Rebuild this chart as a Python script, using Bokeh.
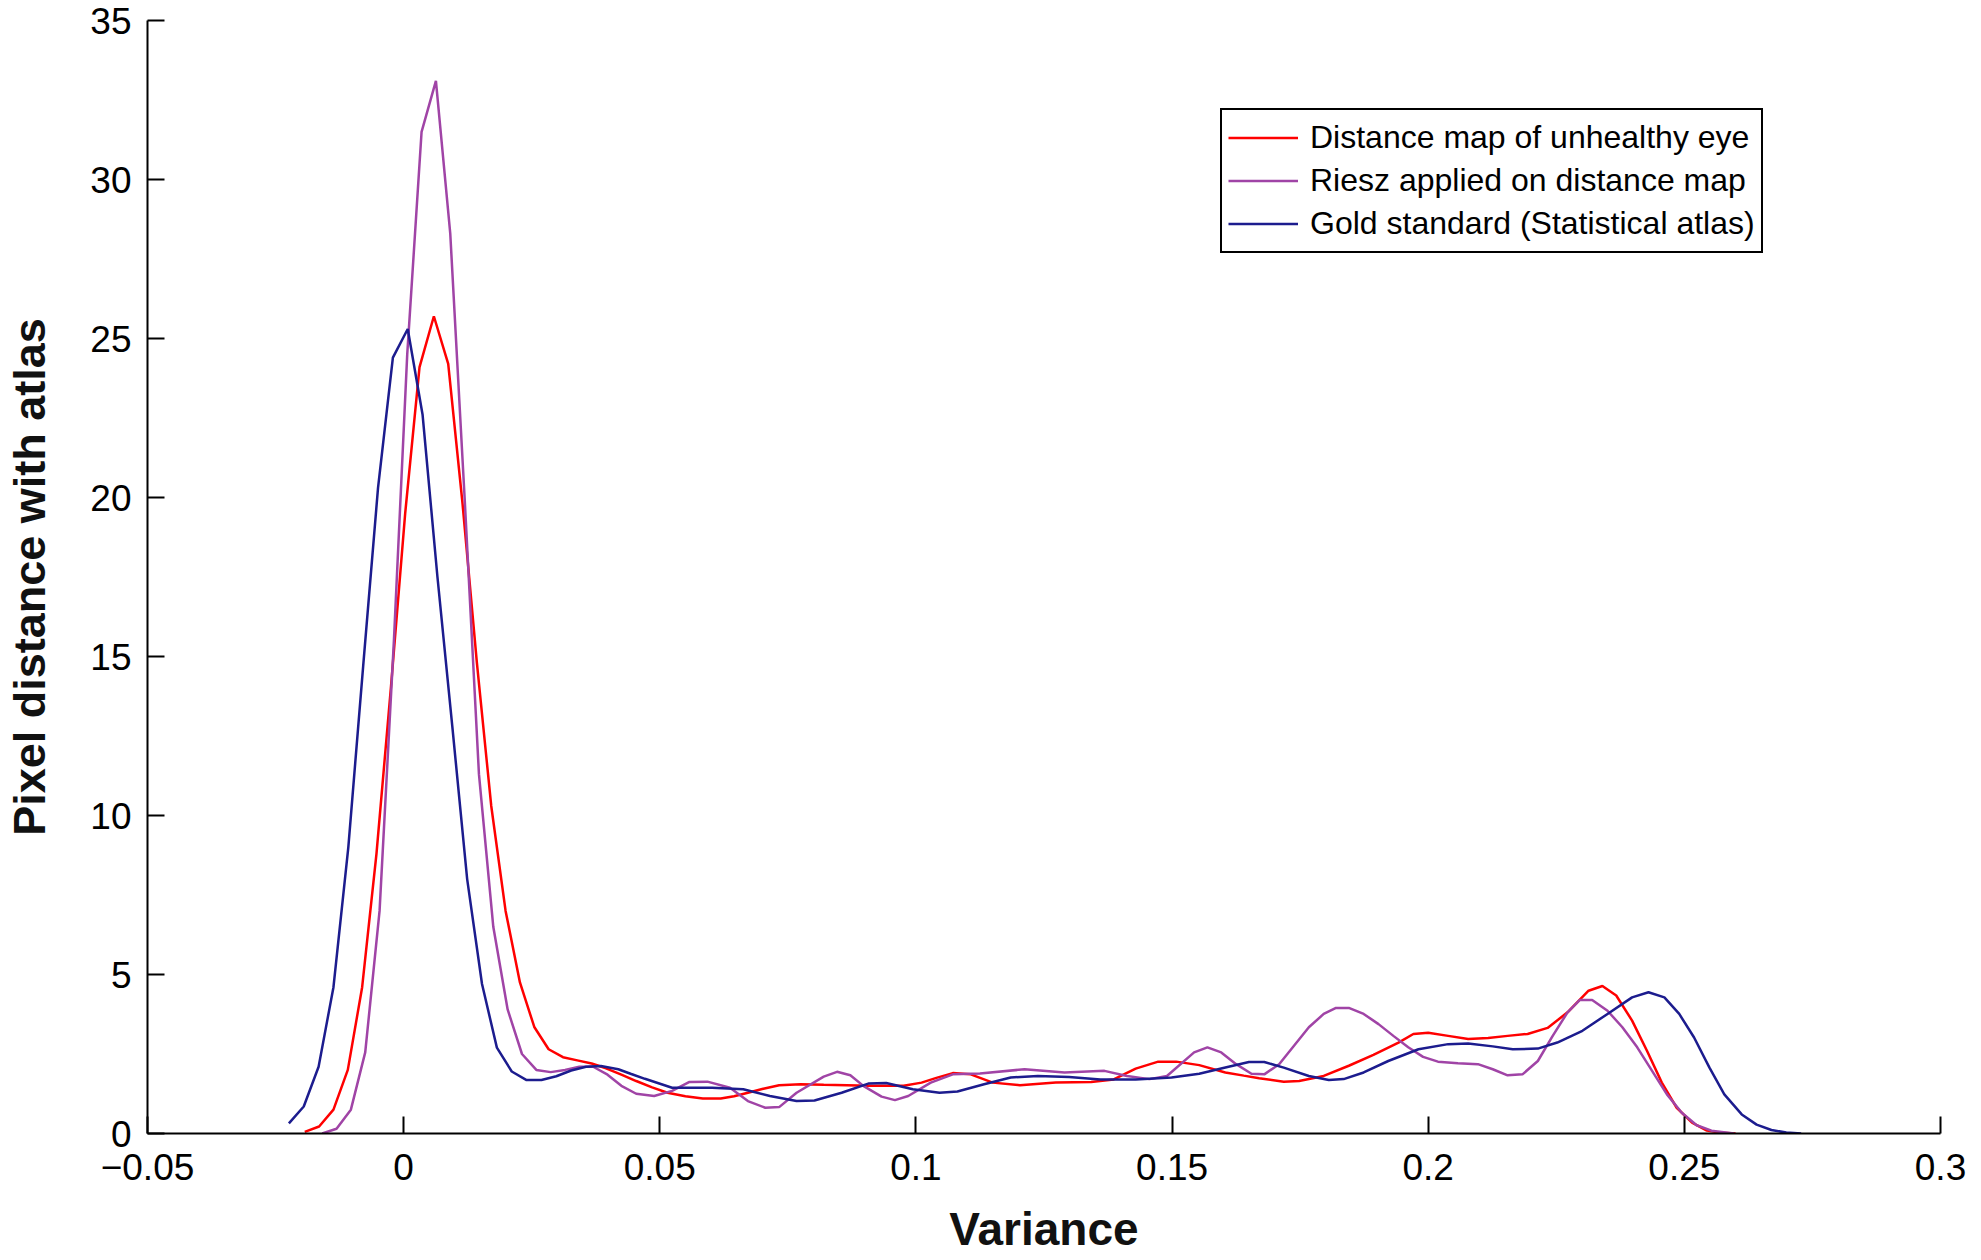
from bokeh.plotting import figure
from bokeh.models import Range1d, FixedTicker, CustomJSTickFormatter, Legend, LegendItem
from bokeh.embed import file_html
from bokeh.resources import INLINE

# ---- data ----
red_x = [-0.0193, -0.0165, -0.0137, -0.0109, -0.0081, -0.0053, -0.0025, 0.0003, 0.0031, 0.0059,
         0.0087, 0.0115, 0.0143, 0.0171, 0.0199, 0.0227, 0.0255, 0.0283, 0.0311, 0.0339,
         0.0367, 0.0395, 0.0425, 0.0454, 0.0485, 0.0515, 0.055, 0.0584, 0.0619, 0.0645,
         0.0672, 0.07, 0.0733, 0.0775, 0.082, 0.0865, 0.0907, 0.0945, 0.0976, 0.1011,
         0.104, 0.1072, 0.1107, 0.115, 0.1203, 0.1273, 0.1342, 0.1386, 0.1429, 0.1473,
         0.1508, 0.1553, 0.1604, 0.164, 0.167, 0.1718, 0.1748, 0.1796, 0.1845, 0.1893,
         0.1942, 0.1971, 0.2, 0.2039, 0.2078, 0.2117, 0.2155, 0.2194, 0.2233, 0.2272,
         0.2313, 0.234, 0.2367, 0.2398, 0.2427, 0.2456, 0.2485, 0.2515, 0.2544, 0.2573, 0.26]
red_y = [0.05, 0.22, 0.75, 2.0, 4.6, 8.8, 14.0, 19.5, 24.1, 25.7,
         24.2, 19.8, 14.8, 10.3, 7.0, 4.75, 3.35, 2.65, 2.4, 2.3,
         2.2, 2.05, 1.85, 1.65, 1.45, 1.28, 1.17, 1.1, 1.1, 1.17,
         1.28, 1.4, 1.52, 1.55, 1.53, 1.52, 1.5, 1.5, 1.5, 1.6,
         1.75, 1.9, 1.86, 1.6, 1.52, 1.6, 1.62, 1.7, 2.04, 2.26,
         2.26, 2.15, 1.92, 1.82, 1.74, 1.63, 1.65, 1.81, 2.13, 2.47,
         2.86, 3.13, 3.17, 3.07, 2.97, 3.0, 3.07, 3.13, 3.32, 3.81,
         4.49, 4.64, 4.34, 3.55, 2.6, 1.6, 0.81, 0.34, 0.09, 0.02, 0.0]

riesz_x = [-0.0159, -0.0131, -0.0103, -0.0075, -0.0047, -0.0019, 0.0007, 0.0035, 0.0063, 0.0091,
           0.0119, 0.0147, 0.0175, 0.0203, 0.0231, 0.0259, 0.0287, 0.0315, 0.0343, 0.037,
           0.0398, 0.0425, 0.0454, 0.0489, 0.0524, 0.0558, 0.0593, 0.0637, 0.0672, 0.0706,
           0.0733, 0.0767, 0.082, 0.0846, 0.0872, 0.0898, 0.0933, 0.0959, 0.0985, 0.1029,
           0.1072, 0.1125, 0.1212, 0.129, 0.1368, 0.1412, 0.1456, 0.149, 0.1543, 0.1569,
           0.1596, 0.1625, 0.1655, 0.168, 0.1709, 0.1738, 0.1767, 0.1796, 0.182, 0.1845,
           0.1874, 0.1903, 0.1932, 0.1961, 0.199, 0.2019, 0.2058, 0.2097, 0.2126, 0.2155,
           0.2184, 0.2214, 0.2243, 0.2272, 0.2296, 0.232, 0.235, 0.2379, 0.2408, 0.2437,
           0.2466, 0.2495, 0.2524, 0.2553, 0.2597]
riesz_y = [0.0, 0.15, 0.75, 2.55, 7.0, 15.5, 24.5, 31.5, 33.1, 28.3,
           20.0, 11.3, 6.5, 3.9, 2.5, 2.0, 1.93, 2.0, 2.1, 2.1,
           1.85, 1.5, 1.25, 1.18, 1.34, 1.62, 1.63, 1.44, 1.02, 0.81,
           0.83, 1.28, 1.79, 1.94, 1.83, 1.49, 1.16, 1.05, 1.18, 1.6,
           1.86, 1.89, 2.02, 1.92, 1.97, 1.81, 1.71, 1.81, 2.55, 2.71,
           2.55, 2.18, 1.88, 1.86, 2.18, 2.76, 3.34, 3.76, 3.95, 3.95,
           3.76, 3.44, 3.07, 2.71, 2.41, 2.26, 2.21, 2.18, 2.02, 1.83,
           1.86, 2.28, 3.07, 3.81, 4.2, 4.2, 3.86, 3.34, 2.71, 1.97,
           1.23, 0.65, 0.26, 0.09, 0.0]

gold_x = [-0.0224, -0.0195, -0.0166, -0.0137, -0.0108, -0.0079, -0.005, -0.0021, 0.0008, 0.0037,
          0.0066, 0.0095, 0.0124, 0.0153, 0.0182, 0.0211, 0.024, 0.0269, 0.0298, 0.0327,
          0.0356, 0.0385, 0.0419, 0.0443, 0.0471, 0.0524, 0.0602, 0.0663, 0.0715, 0.0767,
          0.0802, 0.0855, 0.0907, 0.0942, 0.0994, 0.1046, 0.1081, 0.1133, 0.1185, 0.1238,
          0.1299, 0.136, 0.1429, 0.1499, 0.1553, 0.1602, 0.165, 0.168, 0.1718, 0.1767,
          0.1806, 0.1835, 0.1874, 0.1922, 0.1981, 0.2039, 0.2078, 0.2126, 0.2165, 0.2214,
          0.2252, 0.2301, 0.235, 0.2398, 0.243, 0.2461, 0.249, 0.2519, 0.2549, 0.2578,
          0.2612, 0.2641, 0.267, 0.2699, 0.2728]
gold_y = [0.32, 0.85, 2.1, 4.6, 9.0, 14.7, 20.3, 24.4, 25.3, 22.6,
          17.5, 12.8, 8.0, 4.7, 2.7, 1.95, 1.68, 1.68, 1.8, 1.98,
          2.1, 2.12, 2.02, 1.88, 1.72, 1.44, 1.44, 1.39, 1.18, 1.02,
          1.04, 1.28, 1.57, 1.59, 1.39, 1.28, 1.32, 1.55, 1.76, 1.81,
          1.78, 1.7, 1.7, 1.76, 1.88, 2.07, 2.25, 2.25, 2.07, 1.81,
          1.68, 1.71, 1.92, 2.28, 2.65, 2.81, 2.83, 2.74, 2.65, 2.67,
          2.86, 3.23, 3.76, 4.28, 4.44, 4.28, 3.76, 3.02, 2.07, 1.23,
          0.6, 0.28, 0.11, 0.03, 0.0]

series_labels = ["Distance map of unhealthy eye",
                 "Riesz applied on distance map",
                 "Gold standard (Statistical atlas)"]
x_ticks = [-0.05, 0.0, 0.05, 0.1, 0.15, 0.2, 0.25, 0.3]
y_ticks = [0, 5, 10, 15, 20, 25, 30, 35]
x_title = "Variance"
y_title = "Pixel distance with atlas"

FONT = "Liberation Sans"

p = figure(width=1975, height=1258,
           x_range=Range1d(-0.05, 0.3), y_range=Range1d(0, 35),
           output_backend="svg", toolbar_location=None,
           min_border_left=147, min_border_right=35,
           min_border_top=20, min_border_bottom=125)

p.outline_line_color = None
p.background_fill_color = "white"
p.border_fill_color = "white"
p.xgrid.visible = False
p.ygrid.visible = False

r1 = p.line(red_x, red_y, line_color="#ff0000", line_width=2.5)
r2 = p.line(riesz_x, riesz_y, line_color="#a044a6", line_width=2.5)
r3 = p.line(gold_x, gold_y, line_color="#1c1c8e", line_width=2.5)

xa = p.xaxis[0]
xa.ticker = FixedTicker(ticks=x_ticks)
xa.formatter = CustomJSTickFormatter(code=r"""
let s = tick.toFixed(2);
s = s.replace(/0+$/, '').replace(/\.$/, '');
return s.replace('-', '\u2212');
""")
ya = p.yaxis[0]
ya.ticker = FixedTicker(ticks=y_ticks)

for ax in (xa, ya):
    ax.axis_line_color = "black"
    ax.axis_line_width = 2
    ax.major_tick_line_color = "black"
    ax.major_tick_line_width = 2
    ax.major_tick_in = 17
    ax.major_tick_out = 0
    ax.minor_tick_line_color = None
    ax.major_label_text_font = FONT
    ax.major_label_text_font_size = "37px"
    ax.major_label_text_color = "black"
    ax.major_label_standoff = 16
    ax.axis_label_text_font = FONT
    ax.axis_label_text_font_style = "bold"
    ax.axis_label_text_color = "#111111"

xa.major_label_standoff = 20
xa.axis_label = x_title
xa.axis_label_text_font_size = "46px"
xa.axis_label_standoff = 20
ya.axis_label = y_title
ya.axis_label_text_font_size = "45px"
ya.axis_label_standoff = 32

legend = Legend(items=[LegendItem(label=series_labels[0], renderers=[r1]),
                       LegendItem(label=series_labels[1], renderers=[r2]),
                       LegendItem(label=series_labels[2], renderers=[r3])],
                location=(1073, 880))
legend.border_line_color = "black"
legend.border_line_width = 2
legend.border_line_alpha = 1.0
legend.background_fill_color = "white"
legend.background_fill_alpha = 1.0
legend.label_text_font = FONT
legend.label_text_font_size = "32px"
legend.label_text_color = "black"
legend.glyph_width = 70
legend.glyph_height = 43
legend.label_height = 43
legend.spacing = 0
legend.padding = 6
legend.margin = 0
legend.label_standoff = 12
p.add_layout(legend)

open("out.html", "w").write(file_html(p, INLINE))
